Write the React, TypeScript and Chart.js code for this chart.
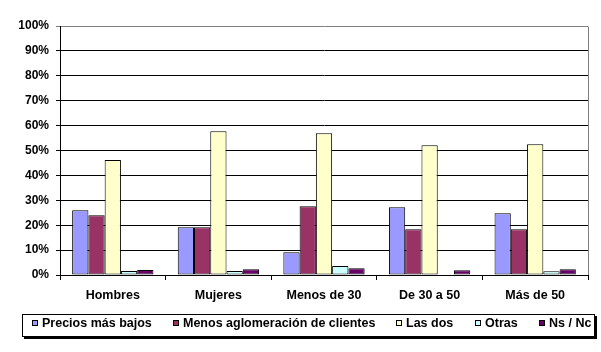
import React, { useEffect, useRef } from "react";
import { Chart, registerables } from "chart.js";

Chart.register(...registerables);

const categories = ["Hombres", "Mujeres", "Menos de 30", "De 30 a 50", "Más de 50"];
const seriesNames = ["Precios más bajos", "Menos aglomeración de clientes", "Las dos", "Otras", "Ns / Nc"];
const preciosMasBajos = [26, 19.2, 9.1, 27.2, 24.8];
const menosAglomeracion = [24, 19.2, 27.6, 18.4, 18.4];
const lasDos = [46.2, 57.7, 56.9, 52.1, 52.5];
const otras = [1.6, 1.6, 3.6, 0, 1.5];
const nsNc = [2, 2.3, 2.7, 1.9, 2.3];
const seriesColors = ["#9999FF", "#993366", "#FFFFCC", "#CCFFFF", "#660066"];
const yTicks = [0, 10, 20, 30, 40, 50, 60, 70, 80, 90, 100];

const FONT = '"Liberation Sans", Arial, sans-serif';

const frameAndLegend = {
  id: "frameAndLegend",
  afterDraw(chart: any) {
    const ctx = chart.ctx;
    const a = chart.chartArea;
    ctx.save();
    // right border of plot area
    ctx.strokeStyle = "#808080";
    ctx.lineWidth = 1;
    ctx.beginPath();
    ctx.moveTo(Math.round(a.right) + 0.5, Math.round(a.top) + 0.5);
    ctx.lineTo(Math.round(a.right) + 0.5, Math.round(a.bottom));
    ctx.stroke();

    // legend frame
    const lx = 22, ly = 314, lw = 572, lh = 22;
    ctx.fillStyle = "#000";
    ctx.fillRect(lx + 2, ly + 2, lw + 1, lh + 1);
    ctx.fillStyle = "#fff";
    ctx.fillRect(lx, ly, lw, lh);
    ctx.strokeStyle = "#000";
    ctx.strokeRect(lx + 0.5, ly + 0.5, lw, lh);

    ctx.font = "bold 12.5px " + FONT;
    ctx.textBaseline = "middle";
    const ds = chart.data.datasets;
    const box = 6, gapText = 4;
    const widths = ds.map((d: any) => ctx.measureText(d.label).width);
    const startX = 32, endX = 591;
    const used = widths.reduce((s: number, w: number) => s + w + box + gapText, 0);
    const gap = (endX - startX - used) / (ds.length - 1);
    let x = startX;
    const cy = 323.5;
    ds.forEach((d: any, i: number) => {
      const bx = Math.round(x);
      ctx.fillStyle = d.backgroundColor;
      ctx.fillRect(bx, 320, box, box);
      ctx.strokeStyle = "#000";
      ctx.strokeRect(bx + 0.5, 320.5, box - 1, box - 1);
      ctx.fillStyle = "#000";
      ctx.fillText(d.label, bx + box + gapText, cy);
      x += box + gapText + widths[i] + gap;
    });
    ctx.restore();
  },
};

export default function App() {
  const ref = useRef<HTMLCanvasElement>(null);
  useEffect(() => {
    document.body.style.margin = "0";
    const values = [preciosMasBajos, menosAglomeracion, lasDos, otras, nsNc];
    const chart = new Chart(ref.current as HTMLCanvasElement, {
      type: "bar",
      data: {
        labels: categories,
        datasets: values.map((v, i) => ({
          label: seriesNames[i],
          data: v,
          backgroundColor: seriesColors[i],
          borderColor: "#000",
          borderWidth: 1,
          borderSkipped: false,
          categoryPercentage: 0.77,
          barPercentage: 1,
        })),
      },
      options: {
        animation: false,
        responsive: false,
        maintainAspectRatio: false,
        layout: { padding: { left: 0, right: 13, top: 26, bottom: 0 } },
        plugins: { legend: { display: false }, tooltip: { enabled: false } },
        scales: {
          x: {
            grid: { drawOnChartArea: false, drawTicks: true, tickLength: 5, color: "#000", offset: true },
            border: { color: "#000", width: 1 },
            ticks: { color: "#000", font: { family: FONT, size: 12.5, weight: "bold" }, padding: 8, maxRotation: 0 },
            afterFit: (s: any) => { s.height = 77; },
          },
          y: {
            min: 0,
            max: 100,
            afterBuildTicks: (s: any) => { s.ticks = yTicks.map((v) => ({ value: v })); },
            ticks: {
              color: "#000",
              font: { family: FONT, size: 12, weight: "bold" },
              padding: 7,
              callback: (v: any) => v + "%",
            },
            grid: {
              color: (c: any) => (c.tick && c.tick.value === 100 ? "#808080" : "#000"),
              lineWidth: 1,
              tickLength: 4,
            },
            border: { color: "#000", width: 1 },
            afterFit: (s: any) => { s.width = 60; },
          },
        },
      },
      plugins: [frameAndLegend],
    });
    return () => chart.destroy();
  }, []);
  return (
    <div style={{ width: 601, height: 352, background: "#fff" }}>
      <canvas ref={ref} width={601} height={352} style={{ display: "block" }} />
    </div>
  );
}
